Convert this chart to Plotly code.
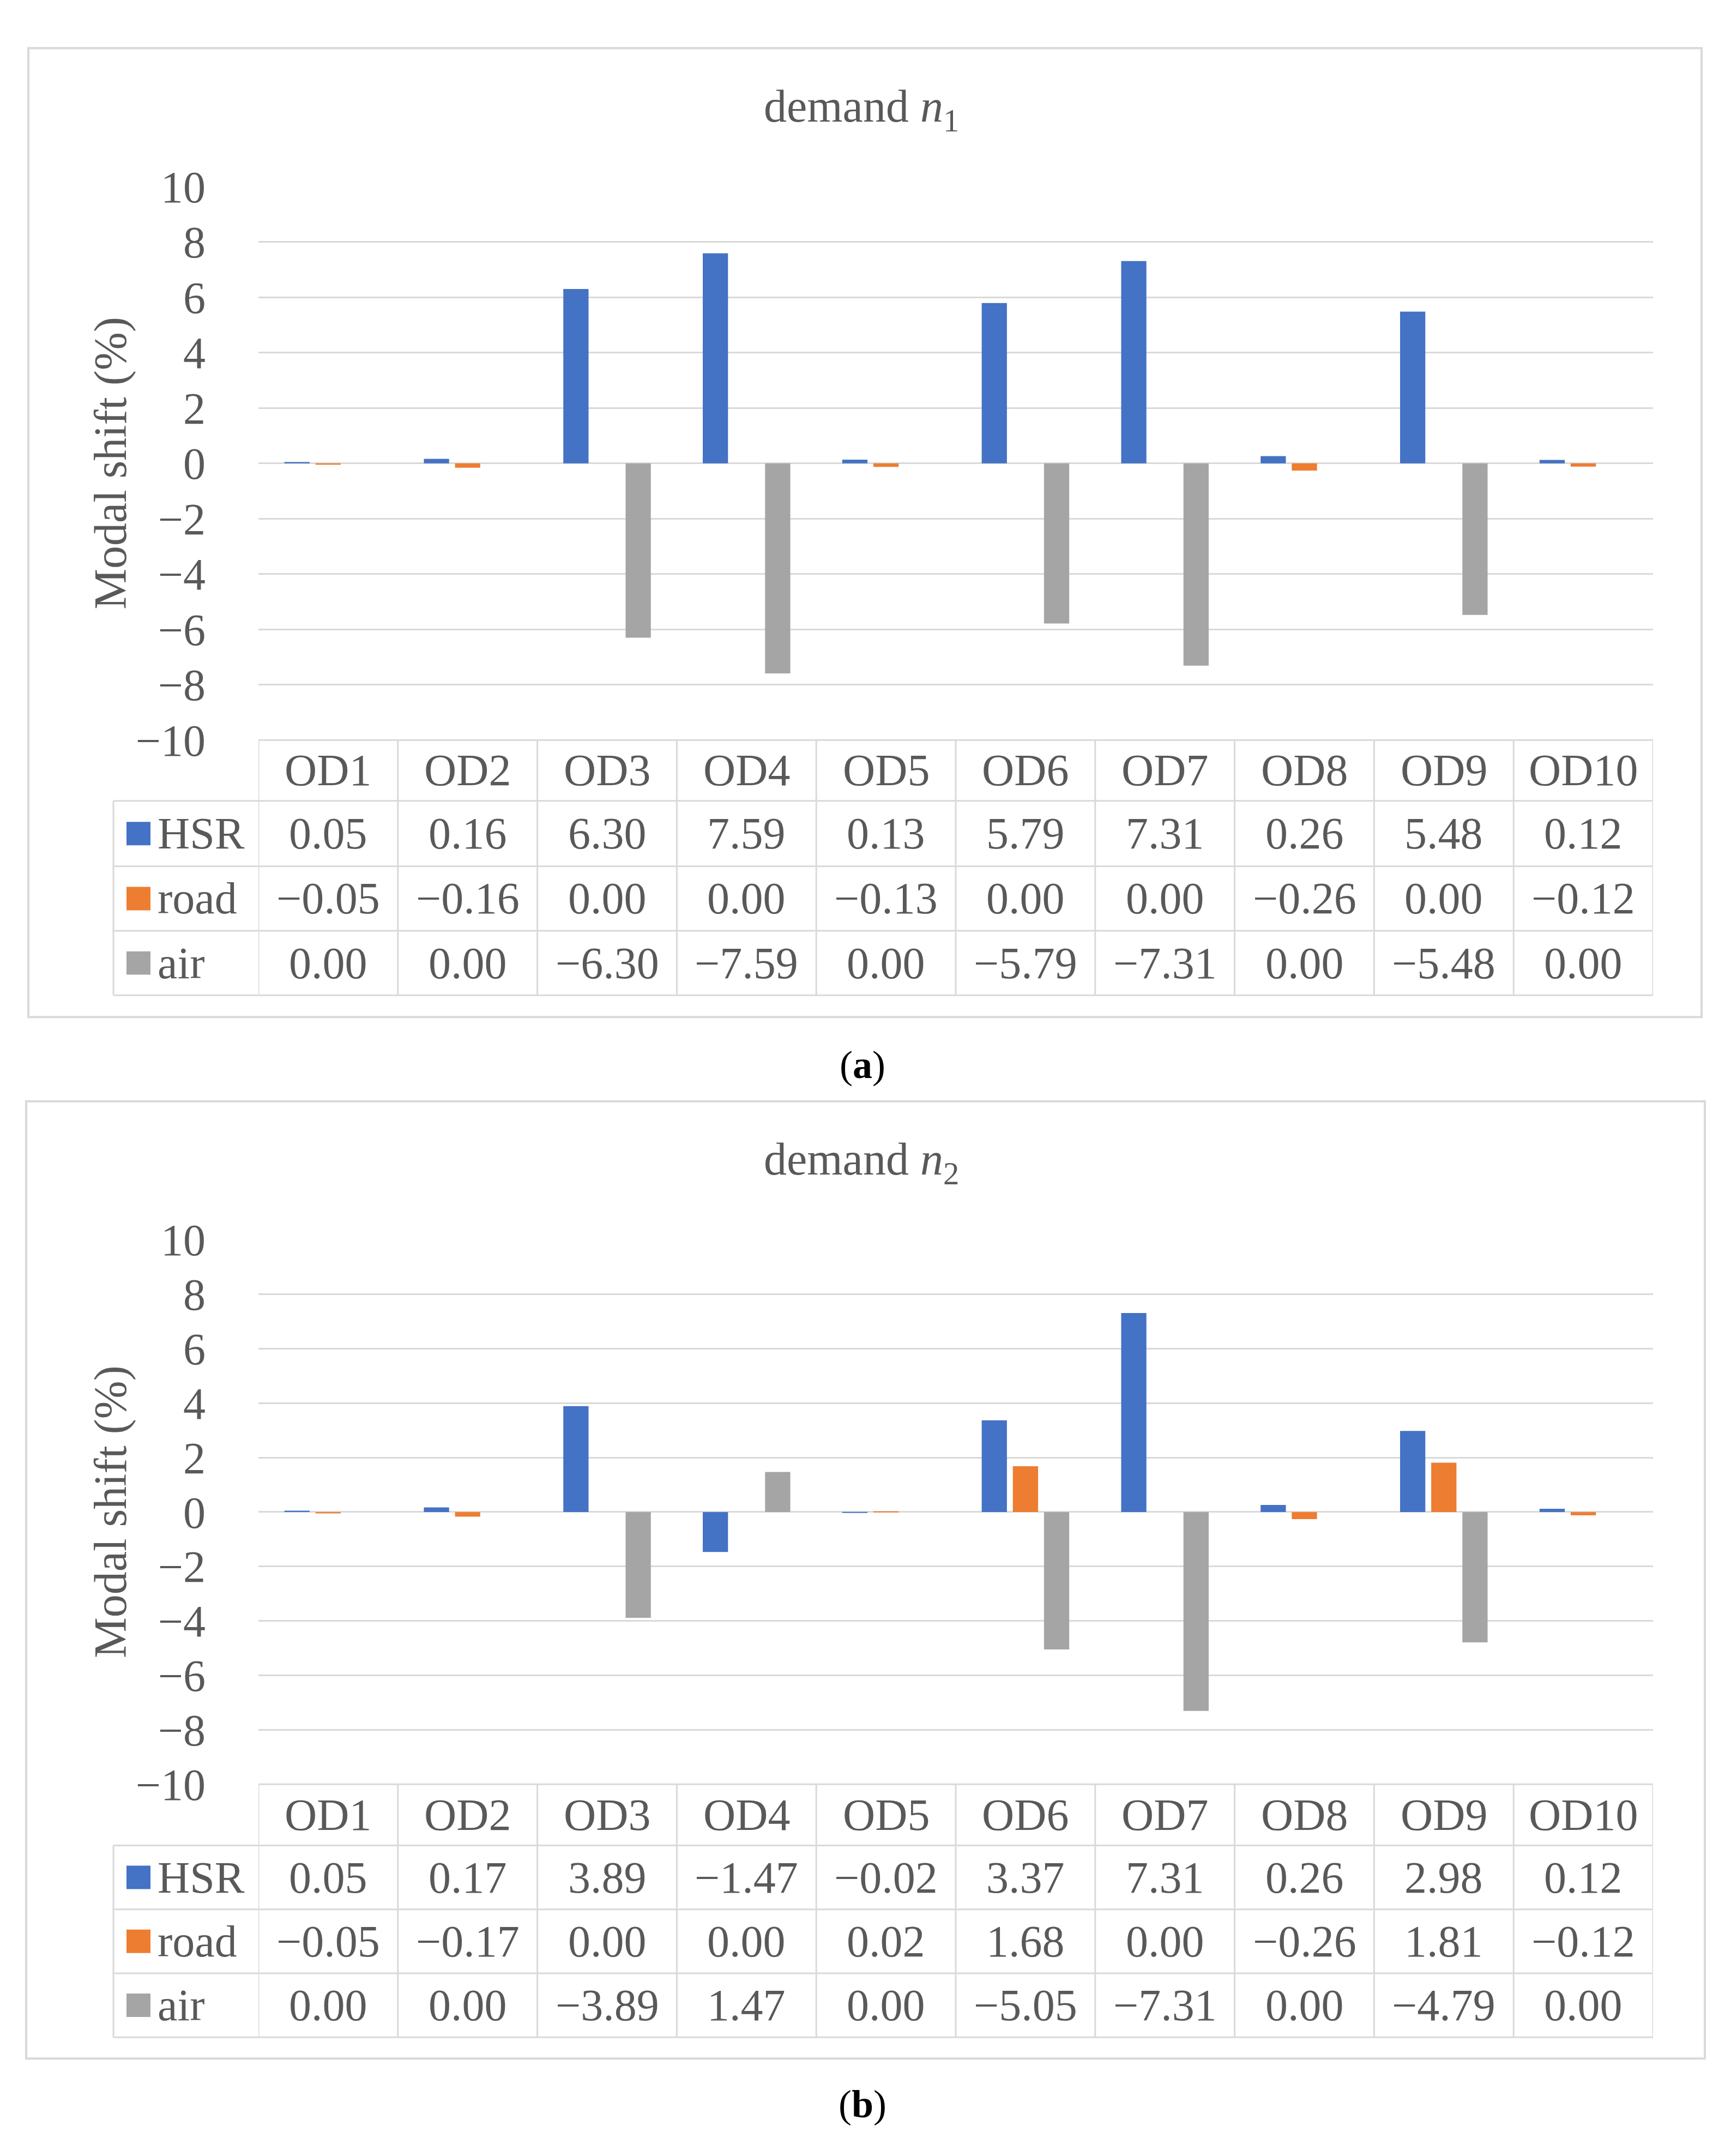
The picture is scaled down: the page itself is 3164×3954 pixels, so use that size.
import plotly.graph_objects as go

# data
categories = ["OD1", "OD2", "OD3", "OD4", "OD5", "OD6", "OD7", "OD8", "OD9", "OD10"]
modes = ["HSR", "road", "air"]

hsr_n1 = [0.05, 0.16, 6.30, 7.59, 0.13, 5.79, 7.31, 0.26, 5.48, 0.12]
road_n1 = [-0.05, -0.16, 0.00, 0.00, -0.13, 0.00, 0.00, -0.26, 0.00, -0.12]
air_n1 = [0.00, 0.00, -6.30, -7.59, 0.00, -5.79, -7.31, 0.00, -5.48, 0.00]

hsr_n2 = [0.05, 0.17, 3.89, -1.47, -0.02, 3.37, 7.31, 0.26, 2.98, 0.12]
road_n2 = [-0.05, -0.17, 0.00, 0.00, 0.02, 1.68, 0.00, -0.26, 1.81, -0.12]
air_n2 = [0.00, 0.00, -3.89, 1.47, 0.00, -5.05, -7.31, 0.00, -4.79, 0.00]

titles = ["demand <i>n</i><sub>1</sub>", "demand <i>n</i><sub>2</sub>"]
captions = ["(<b>a</b>)", "(<b>b</b>)"]
series = [[hsr_n1, road_n1, air_n1], [hsr_n2, road_n2, air_n2]]

colors = ["#4472C4", "#ED7D31", "#A5A5A5"]
FONT = "Liberation Serif"
TEXT = "#595959"
GRID = "#D9D9D9"

W, H = 3164, 3954
PLOT_X0, PLOT_X1 = 466, 3024
LABEL_X0 = 200

# pixel geometry of each panel (page coordinates)
geom = [
    dict(box=(44, 37, 3113, 1856), plot=(297, 1336), rows=[1336, 1450, 1573, 1694, 1815],
         title_y=153, caption_y=1946),
    dict(box=(40, 2014, 3119, 3811), plot=(2274, 3296), rows=[3296, 3411, 3531, 3651, 3771],
         title_y=2129, caption_y=3897),
]


def px(x):
    return x / W


def py(y):
    return 1 - y / H


def fmt(v):
    return f"{v:.2f}".replace("-", "\u2212")


def note(text, x, y, xref="paper", size=82, color=TEXT, xanchor="center", **kw):
    return dict(text=text, x=x, y=y, xref=xref, yref="paper", showarrow=False,
                xanchor=xanchor, yanchor="middle",
                font=dict(family=FONT, size=size, color=color), **kw)


fig = go.Figure()
shapes = []
annotations = []

for p, g in enumerate(geom):
    sfx = "" if p == 0 else str(p + 1)
    xa, ya = "x" + sfx, "y" + sfx

    for name, vals, col in zip(modes, series[p], colors):
        fig.add_trace(go.Bar(x=categories, y=vals, name=name, marker_color=col,
                             marker_line_width=0, xaxis=xa, yaxis=ya, showlegend=False))

    top, bottom = g["plot"]
    fig.layout["xaxis" + sfx] = dict(domain=[px(PLOT_X0), px(PLOT_X1)], anchor=ya,
                                     showticklabels=False, showgrid=False, zeroline=False,
                                     showline=False, range=[-0.5, len(categories) - 0.5])
    fig.layout["yaxis" + sfx] = dict(domain=[py(bottom), py(top)], anchor=xa,
                                     range=[-10, 10], dtick=2, showgrid=True, gridcolor=GRID,
                                     gridwidth=3, zeroline=False, showline=False,
                                     ticklabelstandoff=96,
                                     tickfont=dict(family=FONT, size=82, color=TEXT))

    # panel frame
    bx0, by0, bx1, by1 = g["box"]
    shapes.append(dict(type="rect", xref="paper", yref="paper", x0=px(bx0), x1=px(bx1),
                       y0=py(by0), y1=py(by1), line=dict(color=GRID, width=4)))

    # title, axis title, caption
    annotations.append(note(titles[p], px(1572), py(g["title_y"]), size=84))
    annotations.append(note("Modal shift (%)", px(195), py((top + bottom) / 2), size=84,
                            textangle=-90))
    annotations.append(note(captions[p], px(1574), py(g["caption_y"]), size=72, color="black"))

    # data table below the plot
    rows = g["rows"]
    line = dict(color=GRID, width=3)
    shapes.append(dict(type="line", xref="paper", yref="paper", x0=px(PLOT_X0), x1=px(PLOT_X1),
                       y0=py(rows[0]), y1=py(rows[0]), line=line))
    for r in rows[1:]:
        shapes.append(dict(type="line", xref="paper", yref="paper", x0=px(LABEL_X0), x1=px(PLOT_X1),
                           y0=py(r), y1=py(r), line=line))
    shapes.append(dict(type="line", xref="paper", yref="paper", x0=px(LABEL_X0), x1=px(LABEL_X0),
                       y0=py(rows[1]), y1=py(rows[-1]), line=line))
    for i in range(len(categories) + 1):
        shapes.append(dict(type="line", xref=xa, yref="paper", x0=i - 0.5, x1=i - 0.5,
                           y0=py(rows[0]), y1=py(rows[-1]), line=line))

    for c in categories:
        annotations.append(note(c, c, py((rows[0] + rows[1]) / 2), xref=xa))
    for k, (name, vals, col) in enumerate(zip(modes, series[p], colors)):
        yc = (rows[k + 1] + rows[k + 2]) / 2
        shapes.append(dict(type="rect", xref="paper", yref="paper", x0=px(224), x1=px(268),
                           y0=py(yc - 22), y1=py(yc + 22), fillcolor=col, line=dict(width=0)))
        annotations.append(note(name, px(279), py(yc), xanchor="left"))
        for c, v in zip(categories, vals):
            annotations.append(note(fmt(v), c, py(yc), xref=xa))

fig.update_layout(width=W, height=H, margin=dict(l=0, r=0, t=0, b=0),
                  paper_bgcolor="white", plot_bgcolor="white",
                  barmode="group", bargap=0.33, bargroupgap=0.19,
                  shapes=shapes, annotations=annotations)

fig.write_html("out.html")
